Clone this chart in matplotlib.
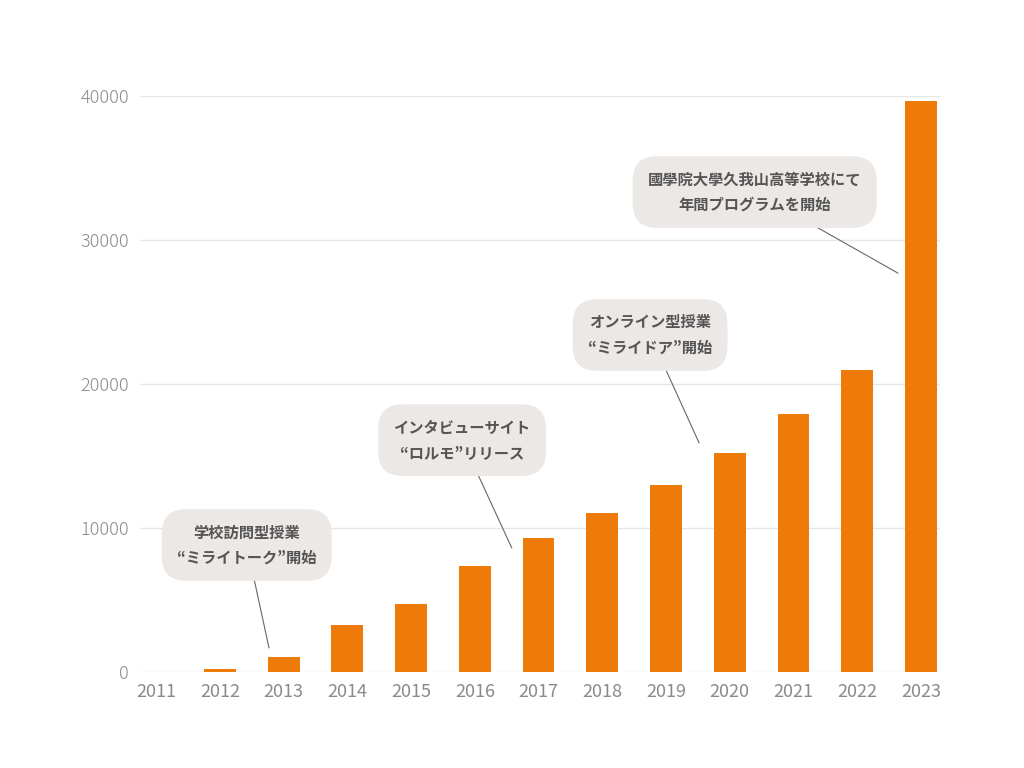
import matplotlib
matplotlib.use("Agg")
import matplotlib.pyplot as plt

years = [2011, 2012, 2013, 2014, 2015, 2016, 2017, 2018, 2019, 2020, 2021, 2022, 2023]
values = [0, 200, 1050, 3250, 4720, 7370, 9300, 11050, 13000, 15200, 17900, 21000, 39650]

notes = ["学校訪問型授業\n“ミライトーク”開始",
         "インタビューサイト\n“ロルモ”リリース",
         "オンライン型授業\n“ミライドア”開始",
         "國學院大學久我山高等学校にて\n年間プログラムを開始"]
note_xy = [(2012.42, 8820), (2015.8, 16100), (2018.75, 23400), (2020.39, 33330)]
note_target = [(2012.77, 1670), (2016.58, 8610), (2019.52, 15900), (2022.64, 27700)]

plt.rcParams['font.family'] = ['Noto Sans CJK JP', 'DejaVu Sans']
fig = plt.figure(figsize=(10.24, 7.68), dpi=100)
ax = fig.add_axes([0.137, 0.125, 0.781, 0.75])
ax.bar(years, values, width=0.5, color="#ee7a0a", zorder=3)
ax.set_ylim(0, 40000)
ax.set_xlim(2010.75, 2023.3)
ax.set_yticks([0, 10000, 20000, 30000, 40000])
ax.set_xticks(years)
ax.set_xticklabels([str(y) for y in years])
ax.grid(axis='y', color="#e6e6e6", linewidth=1, zorder=0)
for s in ax.spines.values():
    s.set_visible(False)
ax.tick_params(length=0, labelsize=13, colors="#8a8a8a", pad=8)
for lab in ax.get_yticklabels():
    lab.set_fontweight('light')

for t, xy, tg in zip(notes, note_xy, note_target):
    ax.annotate(t, xy=tg, xytext=xy, ha='center', va='center', fontsize=11,
                fontweight='bold', color="#555555", linespacing=1.7, zorder=5,
                bbox=dict(boxstyle='round,pad=1.0,rounding_size=1.6', fc="#ece8e6", ec='none'),
                arrowprops=dict(arrowstyle='-', color="#666666", lw=0.8, shrinkA=0, shrinkB=0))

fig.savefig("out.png", dpi=100)
